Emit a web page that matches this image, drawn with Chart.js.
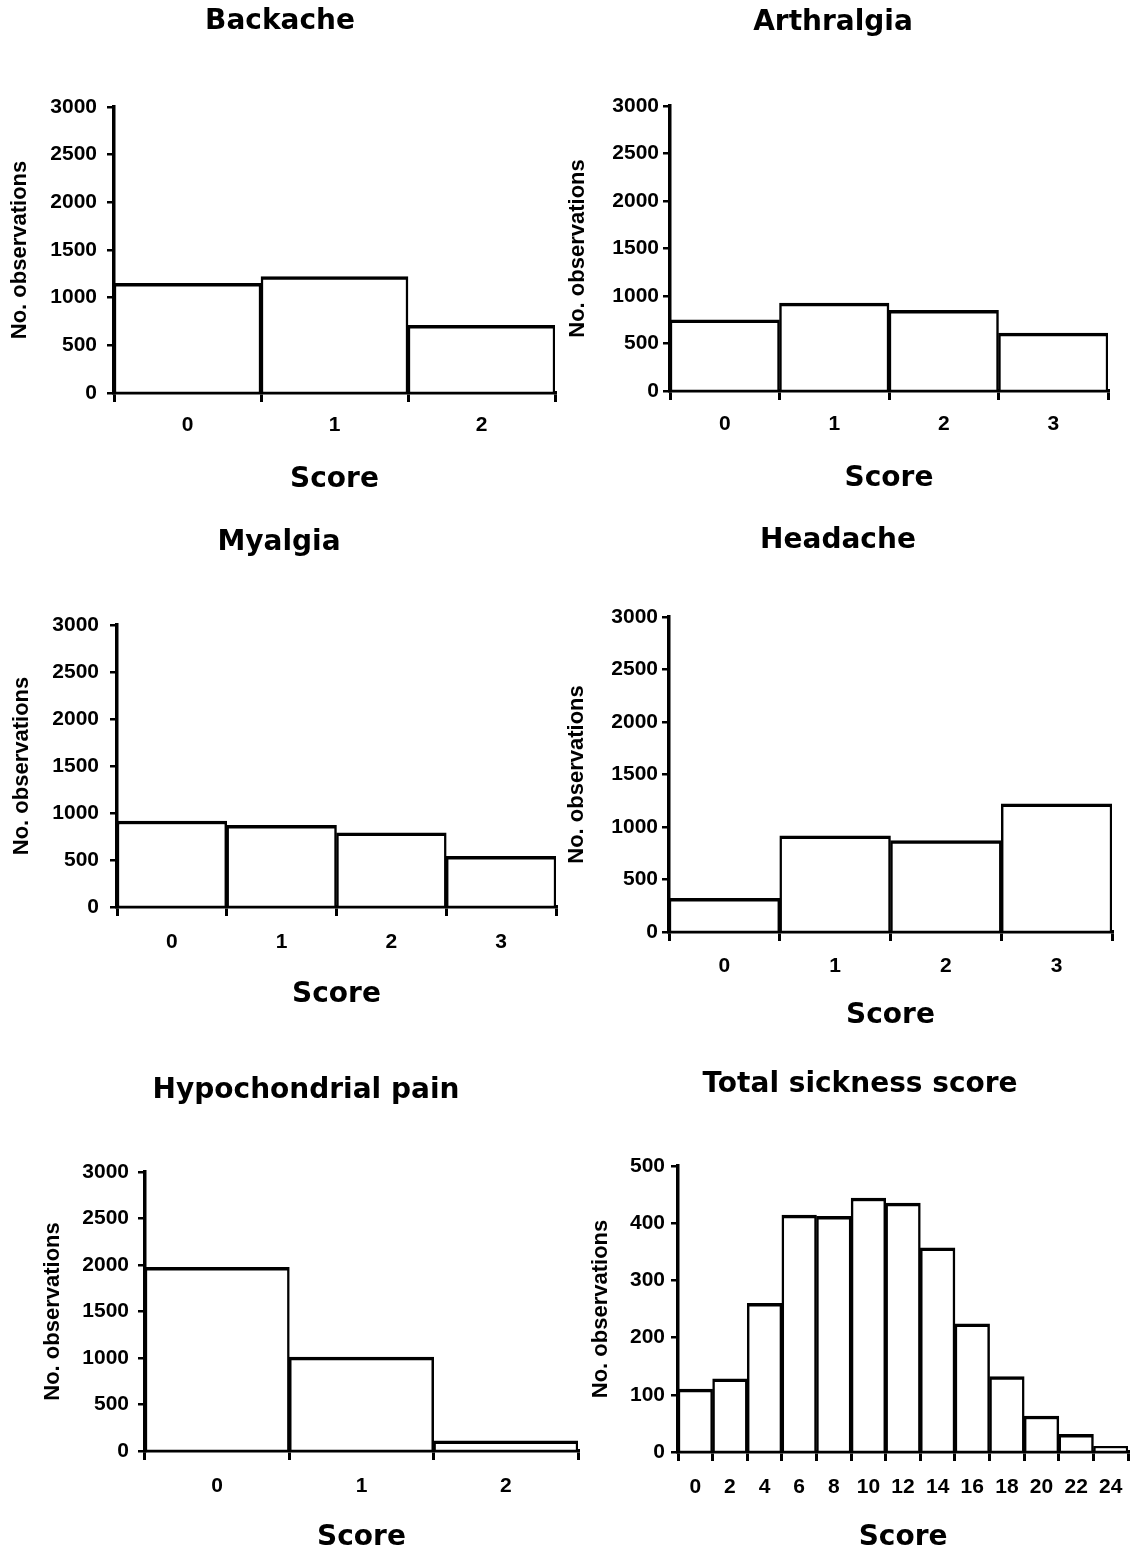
<!DOCTYPE html>
<html>
<head>
<meta charset="utf-8">
<script src="https://cdn.jsdelivr.net/npm/chart.js@4.4.1/dist/chart.umd.min.js"></script>
<style>
  html, body { margin: 0; padding: 0; background: #ffffff; }
  body { width: 1139px; height: 1554px; position: relative; overflow: hidden; }
  canvas { position: absolute; }
</style>
</head>
<body>
<script>
// Score categories
const scoreLabels3 = ['0', '1', '2'];
const scoreLabels4 = ['0', '1', '2', '3'];
const totalScoreLabels = ['0', '2', '4', '6', '8', '10', '12', '14', '16', '18', '20', '22', '24'];

// Number of observations per score
const backacheCounts = [1150, 1220, 710];
const arthralgiaCounts = [750, 925, 850, 610];
const myalgiaCounts = [915, 870, 790, 540];
const headacheCounts = [320, 915, 870, 1220];
const hypochondrialCounts = [1975, 1010, 110];
const totalScoreCounts = [110, 128, 260, 414, 412, 444, 435, 357, 224, 132, 63, 31, 10];

// Y axis ranges
const symptomAxisMax = 3000;
const symptomAxisStep = 500;
const totalAxisMax = 500;
const totalAxisStep = 100;

const panels = [
  { title: 'Backache', labels: scoreLabels3, counts: backacheCounts, yMax: symptomAxisMax, yStep: symptomAxisStep },
  { title: 'Arthralgia', labels: scoreLabels4, counts: arthralgiaCounts, yMax: symptomAxisMax, yStep: symptomAxisStep },
  { title: 'Myalgia', labels: scoreLabels4, counts: myalgiaCounts, yMax: symptomAxisMax, yStep: symptomAxisStep },
  { title: 'Headache', labels: scoreLabels4, counts: headacheCounts, yMax: symptomAxisMax, yStep: symptomAxisStep },
  { title: 'Hypochondrial pain', labels: scoreLabels3, counts: hypochondrialCounts, yMax: symptomAxisMax, yStep: symptomAxisStep },
  { title: 'Total sickness score', labels: totalScoreLabels, counts: totalScoreCounts, yMax: totalAxisMax, yStep: totalAxisStep }
];

// Page placement of each panel (pixels)
const frames = [
  { titleX: 280, titleY: 22,   axisX: 114, right: 555,  top: 107,  bottom: 393,  tickY: 425,  scoreY: 480,  yTitleX: 20,  yTickPad: 10 },
  { titleX: 833, titleY: 23,   axisX: 670, right: 1108, top: 106,  bottom: 391,  tickY: 424,  scoreY: 479,  yTitleX: 578, yTickPad: 4 },
  { titleX: 279, titleY: 543,  axisX: 117, right: 556,  top: 625,  bottom: 907,  tickY: 942,  scoreY: 995,  yTitleX: 22,  yTickPad: 11 },
  { titleX: 838, titleY: 541,  axisX: 669, right: 1112, top: 617,  bottom: 932,  tickY: 966,  scoreY: 1016, yTitleX: 577, yTickPad: 4 },
  { titleX: 306, titleY: 1091, axisX: 145, right: 578,  top: 1172, bottom: 1451, tickY: 1486, scoreY: 1538, yTitleX: 53,  yTickPad: 9 },
  { titleX: 860, titleY: 1085, axisX: 678, right: 1132, top: 1166, bottom: 1452, tickY: 1487, scoreY: 1538, yTitleX: 600, yTickPad: 6 }
];

const TITLE_FONT = { family: '"DejaVu Sans", sans-serif', size: 28, weight: 'bold' };
const TICK_FONT = { family: '"Liberation Sans", Arial, sans-serif', size: 21, weight: 'bold' };
const YTITLE_FONT = { family: '"Liberation Sans", Arial, sans-serif', size: 22, weight: 'bold' };
const RIGHT_PAD = 4;
const Y_TICK_LEN = 7;
const X_TICK_LEN = 9;

function drawPanel(panel, f) {
  const titleLH = TITLE_FONT.size * 1.2;
  const tickLH = TICK_FONT.size * 1.2;
  const yTitleLH = YTITLE_FONT.size * 1.2;

  const left = 2 * f.titleX - f.right;
  const width = f.right - left + RIGHT_PAD;
  const top = f.titleY - 22;
  const titlePadTop = 22 - titleLH / 2;
  const titlePadBottom = f.top - top - titlePadTop - titleLH;
  const xAxisH = Math.round(f.scoreY - f.bottom + 19);
  const scorePadBottom = xAxisH - (f.scoreY - f.bottom) - titleLH / 2;
  const height = f.bottom - top + xAxisH;
  const yAxisW = f.axisX - left;

  const canvas = document.createElement('canvas');
  canvas.width = width;
  canvas.height = height;
  canvas.style.left = left + 'px';
  canvas.style.top = top + 'px';
  canvas.style.width = width + 'px';
  canvas.style.height = height + 'px';
  document.body.appendChild(canvas);

  new Chart(canvas, {
    type: 'bar',
    data: {
      labels: panel.labels,
      datasets: [{
        data: panel.counts,
        backgroundColor: '#ffffff',
        borderColor: '#000000',
        borderWidth: { top: 3.5, left: 2.5, right: 2.5, bottom: 0 },
        borderSkipped: 'start',
        barPercentage: 1,
        categoryPercentage: 1
      }]
    },
    options: {
      responsive: false,
      animation: false,
      devicePixelRatio: 1,
      layout: { padding: { left: 0, right: RIGHT_PAD, top: 0, bottom: 0 } },
      plugins: {
        legend: { display: false },
        tooltip: { enabled: false },
        title: {
          display: true,
          text: panel.title,
          color: '#000000',
          font: TITLE_FONT,
          padding: { top: titlePadTop, bottom: titlePadBottom }
        }
      },
      scales: {
        x: {
          type: 'category',
          offset: true,
          afterFit: (scale) => { scale.height = xAxisH; },
          border: { display: true, color: '#000000', width: 3.5 },
          grid: {
            offset: true,
            drawOnChartArea: false,
            drawTicks: true,
            tickLength: X_TICK_LEN,
            color: '#000000',
            lineWidth: 3
          },
          ticks: {
            color: '#000000',
            font: TICK_FONT,
            padding: f.tickY - f.bottom - X_TICK_LEN - tickLH / 2,
            maxRotation: 0,
            autoSkip: false
          },
          title: {
            display: true,
            text: 'Score',
            color: '#000000',
            font: TITLE_FONT,
            padding: { top: 0, bottom: scorePadBottom }
          }
        },
        y: {
          min: 0,
          max: panel.yMax,
          afterFit: (scale) => { scale.width = yAxisW; },
          border: { display: true, color: '#000000', width: 3.5 },
          grid: {
            drawOnChartArea: false,
            drawTicks: true,
            tickLength: Y_TICK_LEN,
            color: '#000000',
            lineWidth: 2.5
          },
          ticks: {
            stepSize: panel.yStep,
            color: '#000000',
            font: TICK_FONT,
            padding: f.yTickPad,
            callback: (v) => String(v)
          },
          title: {
            display: true,
            text: 'No. observations',
            color: '#000000',
            font: YTITLE_FONT,
            padding: { top: Math.max(0, f.yTitleX - left - yTitleLH / 2), bottom: 0 }
          }
        }
      }
    }
  });
}

panels.forEach((p, i) => drawPanel(p, frames[i]));
</script>
</body>
</html>
